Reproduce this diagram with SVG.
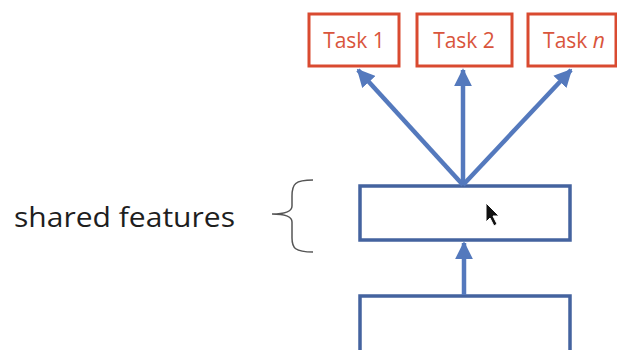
<svg xmlns="http://www.w3.org/2000/svg" width="617" height="350" viewBox="0 0 617 350">
  <style>
    .task rect { fill: #ffffff; stroke: #d94a30; stroke-width: 3; }
    .task text { fill: #d9553c; font-family: "Open Sans", "Liberation Sans", sans-serif; font-size: 21px; text-anchor: middle; }
    .layer rect { fill: #ffffff; stroke: #44639f; stroke-width: 3.5; }
    .conn line { stroke: #5479bd; stroke-width: 4.5; marker-end: url(#head); }
    .label { fill: #1e1e1e; font-family: "Open Sans", "Liberation Sans", sans-serif; font-size: 27px; }
  </style>
  <defs>
    <marker id="head" viewBox="0 0 10 10" refX="9" refY="5" markerWidth="4" markerHeight="4" orient="auto" markerUnits="strokeWidth">
      <path d="M0,0 L10,5 L0,10 z" fill="#5479bd"/>
    </marker>
  </defs>
  <rect width="617" height="350" fill="#ffffff"/>

  <g id="task1" class="task">
    <rect x="309" y="14" width="90" height="52"/>
    <text x="354" y="48">Task 1</text>
  </g>
  <g id="task2" class="task">
    <rect x="417" y="14" width="95" height="52"/>
    <text x="464" y="48">Task 2</text>
  </g>
  <g id="taskn" class="task">
    <rect x="528" y="14" width="88" height="52"/>
    <text x="574" y="48">Task <tspan font-style="italic">n</tspan></text>
  </g>

  <g id="shared" class="layer">
    <rect x="360" y="186" width="210" height="54"/>
  </g>
  <g id="input" class="layer">
    <rect x="360" y="296" width="210" height="60"/>
  </g>

  <g id="connectors" class="conn">
    <line x1="463" y1="185" x2="358" y2="70"/>
    <line x1="463" y1="185" x2="463" y2="70"/>
    <line x1="463" y1="185" x2="571" y2="70"/>
    <line x1="464" y1="295" x2="464" y2="243"/>
  </g>

  <g id="shared-label">
    <text class="label" x="14" y="227" textLength="221" lengthAdjust="spacingAndGlyphs">shared features</text>
    <path d="M313,180 C295,180 292,184 292,196 L292,206 C292,211 285,214 272,214 C285,214 292,217 292,222 L292,238 C292,248 295,252 313,252" fill="none" stroke="#555555" stroke-width="1.5"/>
  </g>

  <!-- pointer -->
  <path d="M486,203 L486,222 L490,218 L494,226 L497,224 L493,216 L499,216 z" fill="#111111" stroke="#ffffff" stroke-width="1"/>
</svg>
